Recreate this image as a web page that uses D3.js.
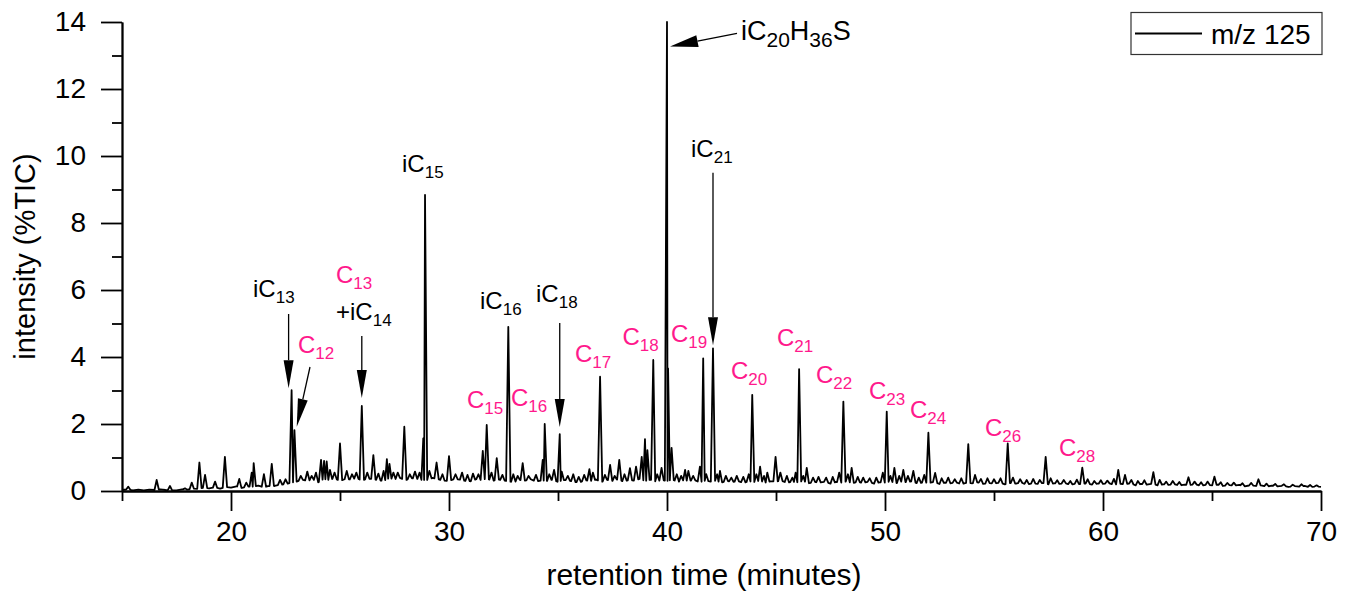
<!DOCTYPE html>
<html>
<head>
<meta charset="utf-8">
<script src="https://cdn.jsdelivr.net/npm/d3@7"></script>
<style>
  html, body { margin: 0; padding: 0; background: #fff; }
  svg { display: block; font-family: Arial, "Liberation Sans", sans-serif; }
</style>
</head>
<body>
<svg id="chart" width="1353" height="597"></svg>
<script>
// Chromatogram, m/z 125 trace: retention time (min) vs intensity (%TIC)

// Baseline level sampled every quarter minute from 15 to 70 min (one row per minute)
const baseStart = 15, baseStep = 0.25;
const baseLevels = [
  0.03, 0.05, 0.02, 0.04,   // 15
  0.02, 0.04, 0.03, 0.05,   // 16
  0.03, 0.02, 0.02, 0.05,   // 17
  0.04, 0.07, 0.06, 0.10,   // 18
  0.08, 0.11, 0.07, 0.12,   // 19
  0.10, 0.14, 0.09, 0.13,   // 20
  0.13, 0.16, 0.11, 0.15,   // 21
  0.15, 0.19, 0.20, 0.25,   // 22
  0.28, 0.34, 0.30, 0.35,   // 23
  0.26, 0.36, 0.33, 0.38,   // 24
  0.30, 0.36, 0.34, 0.39,   // 25
  0.31, 0.37, 0.36, 0.32,   // 26
  0.30, 0.38, 0.35, 0.39,   // 27
  0.32, 0.38, 0.37, 0.33,   // 28
  0.33, 0.39, 0.35, 0.31,   // 29
  0.30, 0.36, 0.34, 0.30,   // 30
  0.29, 0.35, 0.33, 0.37,   // 31
  0.30, 0.34, 0.32, 0.28,   // 32
  0.27, 0.33, 0.31, 0.35,   // 33
  0.28, 0.32, 0.30, 0.34,   // 34
  0.27, 0.33, 0.31, 0.27,   // 35
  0.26, 0.32, 0.30, 0.34,   // 36
  0.27, 0.33, 0.30, 0.35,   // 37
  0.28, 0.33, 0.31, 0.36,   // 38
  0.30, 0.34, 0.28, 0.33,   // 39
  0.30, 0.34, 0.27, 0.32,   // 40
  0.30, 0.33, 0.26, 0.31,   // 41
  0.28, 0.31, 0.25, 0.30,   // 42
  0.27, 0.30, 0.24, 0.29,   // 43
  0.27, 0.31, 0.25, 0.29,   // 44
  0.28, 0.31, 0.24, 0.28,   // 45
  0.26, 0.30, 0.23, 0.27,   // 46
  0.25, 0.28, 0.22, 0.27,   // 47
  0.25, 0.29, 0.23, 0.27,   // 48
  0.24, 0.28, 0.22, 0.26,   // 49
  0.25, 0.29, 0.23, 0.28,   // 50
  0.26, 0.29, 0.22, 0.26,   // 51
  0.24, 0.27, 0.21, 0.25,   // 52
  0.23, 0.26, 0.20, 0.25,   // 53
  0.23, 0.26, 0.21, 0.24,   // 54
  0.22, 0.25, 0.20, 0.24,   // 55
  0.22, 0.25, 0.19, 0.23,   // 56
  0.21, 0.24, 0.20, 0.23,   // 57
  0.21, 0.24, 0.18, 0.22,   // 58
  0.20, 0.23, 0.19, 0.22,   // 59
  0.21, 0.24, 0.18, 0.22,   // 60
  0.20, 0.23, 0.17, 0.21,   // 61
  0.19, 0.22, 0.17, 0.20,   // 62
  0.18, 0.21, 0.16, 0.19,   // 63
  0.18, 0.20, 0.15, 0.19,   // 64
  0.17, 0.19, 0.15, 0.18,   // 65
  0.16, 0.18, 0.14, 0.17,   // 66
  0.15, 0.17, 0.13, 0.16,   // 67
  0.14, 0.16, 0.12, 0.15,   // 68
  0.13, 0.15, 0.11, 0.14,   // 69
  0.12                      // 70
];

// Peak apexes: retention time (min) and intensity (%TIC)
const peakTimes = [
  15.29, 16.59, 17.20, 17.89, 18.20, 18.55, 18.81, 19.27, 19.72, 20.38,
  20.70, 20.95, 21.04, 21.51, 21.87, 22.25, 22.50, 22.78, 22.91, 23.20,
  23.50, 23.70, 23.90, 24.13, 24.27, 24.39, 24.54, 24.75, 25.00, 25.31,
  25.55, 25.75, 26.00, 26.25, 26.53, 26.76, 27.00, 27.15, 27.27, 27.45,
  27.65, 27.95, 28.20, 28.44, 28.65, 28.82, 28.90, 29.10, 29.43, 29.70,
  30.00, 30.30, 30.60, 30.85, 31.10, 31.35, 31.55, 31.73, 31.95, 32.19,
  32.45, 32.72, 32.95, 33.15, 33.38, 33.65, 33.99, 34.30, 34.39, 34.60,
  34.82, 35.08, 35.17, 35.45, 35.70, 35.95, 36.20, 36.44, 36.60, 36.93,
  37.15, 37.39, 37.60, 37.81, 38.05, 38.30, 38.58, 38.84, 38.99, 39.10,
  39.37, 39.55, 39.75, 40.00, 40.05, 40.21, 40.45, 40.65, 40.83, 40.98,
  41.20, 41.51, 41.66, 41.80, 42.11, 42.30, 42.43, 42.70, 42.95, 43.20,
  43.50, 43.75, 43.91, 44.10, 44.27, 44.45, 44.60, 44.98, 45.20, 45.50,
  45.75, 45.90, 46.06, 46.25, 46.41, 46.70, 46.95, 47.30, 47.60, 47.90,
  48.09, 48.30, 48.47, 48.75, 49.00, 49.30, 49.60, 49.90, 50.08, 50.25,
  50.43, 50.65, 50.84, 51.05, 51.30, 51.55, 51.80, 51.99, 52.30, 52.60,
  52.90, 53.20, 53.50, 53.82, 54.13, 54.40, 54.70, 55.00, 55.30, 55.63,
  55.87, 56.20, 56.50, 56.80, 57.10, 57.37, 57.60, 57.90, 58.20, 58.50,
  58.80, 59.05, 59.30, 59.60, 59.90, 60.20, 60.50, 60.70, 61.01, 61.30,
  61.60, 61.90, 62.31, 62.60, 62.90, 63.20, 63.50, 63.92, 64.20, 64.50,
  64.80, 65.11, 65.40, 65.70, 66.00, 66.40, 66.80, 67.13, 67.50, 67.90,
  68.30, 68.70, 69.10, 69.50, 69.80
];
const peakHeights = [
  0.13, 0.33, 0.15, 0.08, 0.25, 0.85, 0.48, 0.28, 1.02, 0.36,
  0.25, 0.55, 0.83, 0.50, 0.81, 0.33, 0.35, 3.01, 1.82, 0.45,
  0.58, 0.45, 0.55, 0.93, 0.90, 0.88, 0.63, 0.55, 1.42, 0.60,
  0.50, 0.55, 2.54, 0.55, 1.07, 0.52, 0.60, 0.95, 0.81, 0.55,
  0.55, 1.92, 0.50, 0.58, 0.55, 1.57, 8.84, 0.60, 0.85, 0.50,
  1.04, 0.50, 0.55, 0.48, 0.52, 0.50, 1.20, 1.97, 0.55, 0.98,
  0.48, 4.90, 0.50, 0.45, 0.83, 0.45, 0.48, 0.93, 2.00, 0.50,
  0.63, 1.70, 0.58, 0.45, 0.50, 0.42, 0.48, 0.65, 0.55, 3.41,
  0.48, 0.78, 0.45, 0.93, 0.50, 0.68, 0.73, 1.02, 1.55, 1.22,
  3.91, 0.50, 0.69, 14.0, 3.66, 1.29, 0.50, 0.45, 0.63, 0.60,
  0.45, 0.73, 3.96, 0.50, 4.26, 0.50, 0.60, 0.45, 0.40, 0.45,
  0.42, 0.50, 2.87, 0.50, 0.73, 0.45, 0.55, 1.02, 0.55, 0.45,
  0.40, 0.55, 3.64, 0.45, 0.69, 0.40, 0.42, 0.40, 0.42, 0.55,
  2.67, 0.50, 0.69, 0.42, 0.40, 0.38, 0.40, 0.55, 2.37, 0.45,
  0.69, 0.45, 0.63, 0.45, 0.60, 0.40, 0.48, 1.74, 0.54, 0.38,
  0.40, 0.35, 0.38, 1.40, 0.48, 0.36, 0.38, 0.35, 0.38, 1.42,
  0.40, 0.35, 0.33, 0.36, 0.33, 1.02, 0.38, 0.32, 0.33, 0.30,
  0.34, 0.70, 0.35, 0.30, 0.32, 0.31, 0.36, 0.63, 0.48, 0.33,
  0.30, 0.32, 0.56, 0.33, 0.28, 0.30, 0.27, 0.41, 0.28, 0.26,
  0.28, 0.43, 0.26, 0.24, 0.25, 0.23, 0.24, 0.35, 0.22, 0.21,
  0.20, 0.19, 0.20, 0.18, 0.17
];

const xMajorTicks = [20, 30, 40, 50, 60, 70];
const xMinorTicks = [15, 25, 35, 45, 55, 65];
const yMajorTicks = [0, 2, 4, 6, 8, 10, 12, 14];
const yMinorTicks = [1, 3, 5, 7, 9, 11, 13];

const seriesName = "m/z 125";
const xTitle = "retention time (minutes)";
const yTitle = "intensity (%TIC)";

const FONT = 'Arial, "Liberation Sans", sans-serif';
const PINK = "#ff198c";

const svg = d3.select("#chart");
const x = d3.scaleLinear().domain([15, 70]).range([122, 1321]);
const y = d3.scaleLinear().domain([0, 14]).range([491, 22]);

// ---- trace: baseline samples plus a narrow triangle at every peak apex ----
const baseTimes = baseLevels.map((_, i) => baseStart + i * baseStep);
const baseAt = d3.scaleLinear().domain(baseTimes).range(baseLevels).clamp(true);
const HALF = 0.1;
const peaks = peakTimes.map((t, i) => ({ t, h: peakHeights[i] })).sort((a, b) => a.t - b.t);

const pts = [];
baseTimes.forEach((t, i) => {
  if (!peaks.some(p => Math.abs(p.t - t) < HALF + 0.02)) pts.push([t, baseLevels[i]]);
});
peaks.forEach((p, i) => {
  const prev = peaks[i - 1], next = peaks[i + 1];
  const l = prev ? Math.max(p.t - HALF, (prev.t + p.t) / 2) : p.t - HALF;
  const r = next ? Math.min(p.t + HALF, (next.t + p.t) / 2) : p.t + HALF;
  pts.push([l, baseAt(l)], [p.t, p.h], [r, baseAt(r)]);
});
pts.sort((a, b) => a[0] - b[0]);

// ---- axes ----
const axisG = svg.append("g");
function styleAxis(g) {
  g.selectAll("path.domain").attr("stroke", "#000").attr("stroke-width", 1.8);
  g.selectAll(".tick line").attr("stroke", "#000").attr("stroke-width", 1.8);
  g.selectAll(".tick text").attr("fill", "#000").style("font-family", FONT).style("font-size", "28px");
}

axisG.append("g")
  .attr("transform", `translate(0,${y(0)})`)
  .call(d3.axisBottom(x).tickValues(xMinorTicks).tickSize(10).tickSizeOuter(0).tickFormat(""))
  .call(styleAxis);
axisG.append("g")
  .attr("transform", `translate(0,${y(0)})`)
  .call(d3.axisBottom(x).tickValues(xMajorTicks).tickSize(20).tickSizeOuter(0).tickPadding(10).tickFormat(d3.format("d")))
  .call(styleAxis);
axisG.append("g")
  .attr("transform", `translate(${x(15)},0)`)
  .call(d3.axisLeft(y).tickValues(yMinorTicks).tickSize(10).tickSizeOuter(0).tickFormat(""))
  .call(styleAxis);
axisG.append("g")
  .attr("transform", `translate(${x(15)},0)`)
  .call(d3.axisLeft(y).tickValues(yMajorTicks).tickSize(21).tickSizeOuter(0).tickPadding(15).tickFormat(d3.format("d")))
  .call(styleAxis);

svg.append("path")
  .datum(pts)
  .attr("fill", "none")
  .attr("stroke", "#000")
  .attr("stroke-width", 1.8)
  .attr("stroke-linejoin", "round")
  .attr("d", d3.line().x(d => x(d[0])).y(d => y(d[1])));

// axis titles
svg.append("text")
  .attr("x", 704).attr("y", 585)
  .attr("text-anchor", "middle")
  .style("font-size", "30px").attr("fill", "#000")
  .text(xTitle);
svg.append("text")
  .attr("transform", `translate(35,${(y(0) + y(14)) / 2}) rotate(-90)`)
  .attr("text-anchor", "middle")
  .style("font-size", "29px").attr("fill", "#000")
  .text(yTitle);

// ---- legend ----
const lg = svg.append("g");
lg.append("rect").attr("x", 1131).attr("y", 12.5).attr("width", 191).attr("height", 42)
  .attr("fill", "#fff").attr("stroke", "#333").attr("stroke-width", 1.2);
lg.append("line").attr("x1", 1135).attr("x2", 1202).attr("y1", 33.5).attr("y2", 33.5)
  .attr("stroke", "#000").attr("stroke-width", 1.8);
lg.append("text").attr("x", 1211).attr("y", 44).style("font-size", "28px").attr("fill", "#000").text(seriesName);

// ---- peak labels with subscripts ----
function label(xp, yp, parts, color, size = 24, subSize = 17, drop = 6) {
  const t = svg.append("text").attr("x", xp).attr("y", yp).attr("fill", color)
    .style("font-size", size + "px");
  let down = false;
  parts.forEach(([s, sub]) => {
    const ts = t.append("tspan").text(s);
    if (sub && !down) { ts.attr("dy", drop).style("font-size", subSize + "px"); down = true; }
    else if (sub) { ts.style("font-size", subSize + "px"); }
    else if (!sub && down) { ts.attr("dy", -drop); down = false; }
  });
}

label(253, 297, [["iC"], ["13", 1]], "#000");
label(298, 353, [["C"], ["12", 1]], PINK);
label(336, 283, [["C"], ["13", 1]], PINK);
label(336, 320, [["+iC"], ["14", 1]], "#000");
label(402, 172, [["iC"], ["15", 1]], "#000");
label(480, 309, [["iC"], ["16", 1]], "#000");
label(536, 301.5, [["iC"], ["18", 1]], "#000");
label(467, 407.5, [["C"], ["15", 1]], PINK);
label(511, 405.5, [["C"], ["16", 1]], PINK);
label(575, 361.5, [["C"], ["17", 1]], PINK);
label(622.5, 345, [["C"], ["18", 1]], PINK);
label(671, 341.5, [["C"], ["19", 1]], PINK);
label(731, 379, [["C"], ["20", 1]], PINK);
label(777, 345.5, [["C"], ["21", 1]], PINK);
label(816, 382.5, [["C"], ["22", 1]], PINK);
label(869, 399, [["C"], ["23", 1]], PINK);
label(910, 418, [["C"], ["24", 1]], PINK);
label(985, 436, [["C"], ["26", 1]], PINK);
label(1059, 456, [["C"], ["28", 1]], PINK);
label(691, 156.5, [["iC"], ["21", 1]], "#000");
label(741, 40, [["iC"], ["20", 1], ["H"], ["36", 1], ["S"]], "#000", 27, 21, 7);

// ---- arrows pointing at peaks ----
function arrow(x1, y1, x2, y2, len = 28, half = 5) {
  const ang = Math.atan2(y2 - y1, x2 - x1);
  const bx = x2 - len * Math.cos(ang), by = y2 - len * Math.sin(ang);
  const nx = -Math.sin(ang) * half, ny = Math.cos(ang) * half;
  svg.append("line").attr("x1", x1).attr("y1", y1).attr("x2", bx).attr("y2", by)
    .attr("stroke", "#000").attr("stroke-width", 1.3);
  svg.append("path")
    .attr("d", `M${x2},${y2}L${bx + nx},${by + ny}L${bx - nx},${by - ny}Z`)
    .attr("fill", "#000");
}
function peakPos(t) {
  const p = peaks.find(q => q.t === t);
  return [x(p.t), y(p.h)];
}

let p;
p = peakPos(22.78); arrow(p[0] - 3, 314, p[0] - 3, p[1] - 2);
p = peakPos(22.91); arrow(310, 367, p[0] + 2.3, p[1] - 3.3);
p = peakPos(26.00); arrow(p[0], 336, p[0], p[1] - 8);
p = peakPos(35.08); arrow(p[0], 323, p[0], p[1] - 7);
p = peakPos(42.11); arrow(p[0], 172.7, p[0], p[1] - 3);
p = peakPos(40.00); arrow(737, 33.3, p[0] + 3, p[1] + 24.5, 28, 6);
</script>
</body>
</html>
